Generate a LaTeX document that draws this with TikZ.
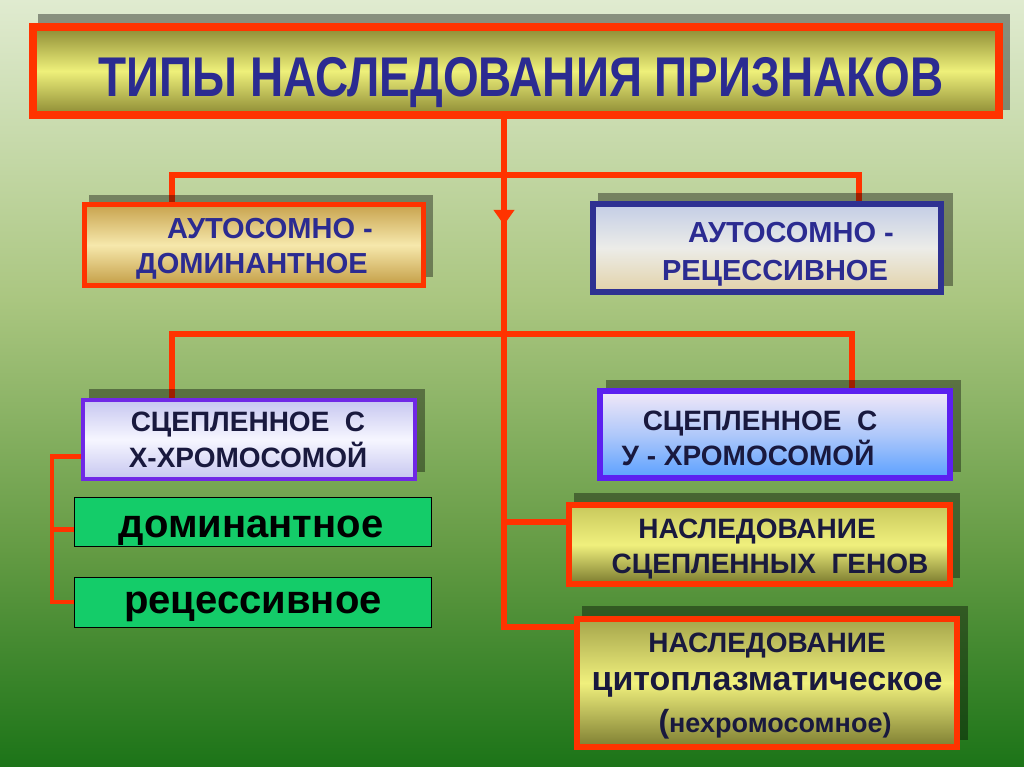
\documentclass[tikz,border=0pt]{standalone}
\usepackage{fontspec}
\setmainfont{Liberation Sans}
\newfontfamily\narrowfont{Liberation Sans}[FakeStretch=0.82]
\usetikzlibrary{arrows.meta,calc}
\definecolor{bga}{RGB}{224,235,208}
\definecolor{bgb}{RGB}{170,198,128}
\definecolor{bgc}{RGB}{100,155,68}
\definecolor{bgd}{RGB}{28,116,24}
\definecolor{redl}{RGB}{255,51,0}
\definecolor{tblue}{RGB}{43,43,145}
\definecolor{tnavy}{RGB}{25,25,62}
\definecolor{arblue}{RGB}{46,49,146}
\definecolor{xpur}{RGB}{112,40,230}
\definecolor{ypur}{RGB}{92,32,240}
\definecolor{olA}{RGB}{140,138,52}
\definecolor{olB}{RGB}{238,240,122}
\definecolor{goldA}{RGB}{200,163,78}
\definecolor{goldB}{RGB}{246,232,172}
\definecolor{goldC}{RGB}{196,158,70}
\definecolor{arA}{RGB}{195,205,230}
\definecolor{arB}{RGB}{236,236,232}
\definecolor{arC}{RGB}{226,210,168}
\definecolor{xA}{RGB}{198,198,240}
\definecolor{xB}{RGB}{246,246,255}
\definecolor{yA}{RGB}{242,232,248}
\definecolor{yB}{RGB}{175,200,250}
\definecolor{yC}{RGB}{90,160,255}
\definecolor{gA}{RGB}{200,200,92}
\definecolor{gB}{RGB}{240,240,125}
\definecolor{gC}{RGB}{122,122,46}
\definecolor{cA}{RGB}{165,165,75}
\definecolor{cC}{RGB}{126,126,50}
\definecolor{grn}{RGB}{20,204,105}
\pgfdeclarelayer{background}
\pgfdeclarelayer{lines}
\pgfdeclarelayer{shadows}
\pgfsetlayers{background,lines,shadows,main}
\begin{document}
\begin{tikzpicture}[x=1pt,y=-1pt,
  conn/.style={draw=redl,line width=6pt},
  brk/.style={draw=redl,line width=4.5pt},
  shadowbox/.style={fill=black,opacity=0.38},
  box/.style={rectangle,inner sep=0pt,outer sep=0pt},
  txt/.style={inner sep=0pt,anchor=base,font=\bfseries\fontsize{28}{32}\selectfont,text=tblue},
  ltxt/.style={txt,text=tnavy},
  gtxt/.style={txt,text=black,font=\bfseries\fontsize{40}{44}\selectfont},
  gbox/.style={box,draw=black,line width=0.8pt,fill=grn,minimum width=357pt,minimum height=49pt}]
\useasboundingbox (0,0) rectangle (1024,767);
\begin{pgfonlayer}{background}
\shade[top color=bga,bottom color=bgb] (0,0) rectangle (1024,300);
\shade[top color=bgb,bottom color=bgc] (0,299.5) rectangle (1024,550);
\shade[top color=bgc,bottom color=bgd] (0,549.5) rectangle (1024,767);
\end{pgfonlayer}
% boxes
\node[box,draw=redl,line width=8pt,top color=olA,bottom color=olA,middle color=olB,minimum width=966pt,minimum height=88pt] (title) at (516,71) {};
\node[box,draw=redl,line width=5pt,top color=goldA,bottom color=goldC,middle color=goldB,minimum width=339pt,minimum height=80pt] (ad) at (253.5,245) {};
\node[box,draw=arblue,line width=6pt,top color=arA,bottom color=arC,middle color=arB,minimum width=348pt,minimum height=88pt] (ar) at (767,248) {};
\node[box,draw=xpur,line width=4pt,top color=xA,bottom color=xA,middle color=xB,minimum width=332pt,minimum height=79pt] (xb) at (249,439.5) {};
\node[gbox] (dom) at (252.5,521.5) {};
\node[gbox,minimum height=50pt] (rec) at (252.5,602) {};
\node[box,draw=ypur,line width=6pt,top color=yA,bottom color=yC,middle color=yB,minimum width=350pt,minimum height=87pt] (yb) at (775,434.5) {};
\node[box,draw=redl,line width=6pt,top color=gA,bottom color=gC,middle color=gB,minimum width=381pt,minimum height=79pt] (genes) at (759.5,544.5) {};
\node[box,draw=redl,line width=6pt,top color=cA,bottom color=cC,middle color=gB,minimum width=380pt,minimum height=128pt] (cyto) at (767,683) {};
% shadows
\begin{pgfonlayer}{shadows}
\fill[shadowbox] (38,14) rectangle (1010,110);
\fill[shadowbox] (89,195) rectangle (433,277);
\fill[shadowbox] (598,193) rectangle (953,286);
\fill[shadowbox] (89,389) rectangle (425,472);
\fill[shadowbox] (606,380) rectangle (961,472);
\fill[shadowbox] (574,493) rectangle (960,578);
\fill[shadowbox] (582,606) rectangle (968,740);
\end{pgfonlayer}
% texts
\node[txt,font=\narrowfont\bfseries\fontsize{56}{60}\selectfont] (tt) at (521,97) {ТИПЫ НАСЛЕДОВАНИЯ ПРИЗНАКОВ};
\node[txt,font=\bfseries\fontsize{29}{32}\selectfont] (ad1) at (270,238) {АУТОСОМНО -};
\node[txt,font=\bfseries\fontsize{29}{32}\selectfont] (ad2) at (252,273) {ДОМИНАНТНОЕ};
\node[txt,font=\bfseries\fontsize{29}{32}\selectfont] (ar1) at (791,242) {АУТОСОМНО -};
\node[txt,font=\bfseries\fontsize{29}{32}\selectfont] (ar2) at (775,280) {РЕЦЕССИВНОЕ};
\node[ltxt] (x1) at (248,431) {СЦЕПЛЕННОЕ\ \ С};
\node[ltxt] (x2) at (248,467) {Х-ХРОМОСОМОЙ};
\node[gtxt] (dt) at (251,537) {доминантное};
\node[gtxt] (rt) at (253,613) {рецессивное};
\node[ltxt] (y1) at (760,430) {СЦЕПЛЕННОЕ\ \ С};
\node[ltxt] (y2) at (748,465) {У - ХРОМОСОМОЙ};
\node[ltxt] (g1) at (757,538) {НАСЛЕДОВАНИЕ};
\node[ltxt] (g2) at (770,573) {СЦЕПЛЕННЫХ\ \ ГЕНОВ};
\node[ltxt] (c1) at (767,652) {НАСЛЕДОВАНИЕ};
\node[ltxt,font=\bfseries\fontsize{34}{38}\selectfont] (c2) at (767,690) {цитоплазматическое};
\node[ltxt,font=\bfseries\fontsize{27}{30}\selectfont] (c3) at (775,732) {{\fontsize{32}{36}\selectfont(}нехромосомное)};
% connectors
\begin{pgfonlayer}{lines}
\coordinate (t0) at ($(title.south)+(-12,0)$);
\coordinate (j1) at (504,175);
\coordinate (j2) at (504,334);
\coordinate (j3) at (504,522);
\coordinate (tend) at (504,627);
\coordinate (arr) at (504,225);
\draw[conn] (t0) -- (tend) -- (cyto.west |- tend);
\draw[conn] (j1) -| ($(ad.north west)+(88,0)$);
\draw[conn] (j1) -| ($(ar.north west)+(266,0)$);
\draw[conn] (j2) -| ($(xb.north west)+(89,0)$);
\draw[conn] (j2) -| ($(yb.north west)+(252,0)$);
\draw[conn] (j3) -- (genes.west |- j3);
\draw[brk] ($(xb.west)+(0,17)$) -- ++(-31,0) |- (rec.west);
\draw[brk] ($(dom.west)+(0,8)$) -- ++(-22,0);
\end{pgfonlayer}
\draw[redl,line width=6pt,-{Triangle[width=20pt,length=15pt]}] (t0) -- (arr);
\end{tikzpicture}
\end{document}
